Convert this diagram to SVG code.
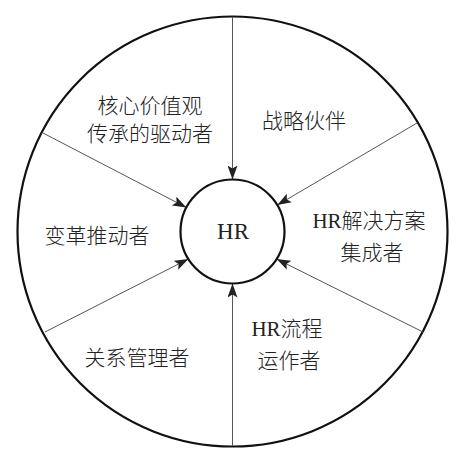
<svg xmlns="http://www.w3.org/2000/svg" width="469" height="454" viewBox="0 0 469 454">
<style>
.ring{fill:none;stroke:#111;stroke-width:2.2}
.hub{fill:#fff;stroke:#111;stroke-width:2.2}
.spoke{fill:none;stroke:#555;stroke-width:1}
.zh{font-family:"Noto Sans CJK SC","Noto Sans CJK JP",sans-serif;font-size:21px;font-weight:300;fill:#222;text-anchor:middle}
.lat{font-family:"Liberation Serif",serif;font-weight:400}
.hr{font-family:"Liberation Serif",serif;font-size:23px;fill:#222;text-anchor:middle}
</style>
<defs>
<marker id="ah" viewBox="0 0 14 10" refX="14" refY="5" markerWidth="14" markerHeight="10" markerUnits="userSpaceOnUse" orient="auto">
<path d="M0,0 L14,5 L0,10 L3,5 z" fill="#222"/>
</marker>
</defs>
<g id="outer"><circle class="ring" cx="232.5" cy="231.5" r="215"/></g>
<g id="connectors">
<line class="spoke" x1="232.5" y1="17" x2="232.5" y2="179.5" marker-end="url(#ah)"/>
<line class="spoke" x1="232.5" y1="446" x2="232.5" y2="283.5" marker-end="url(#ah)"/>
<line class="spoke" x1="43" y1="133" x2="186.4" y2="207.5" marker-end="url(#ah)"/>
<line class="spoke" x1="417" y1="123" x2="277.3" y2="205.1" marker-end="url(#ah)"/>
<line class="spoke" x1="45" y1="332" x2="188.4" y2="259" marker-end="url(#ah)"/>
<line class="spoke" x1="423" y1="332" x2="276.6" y2="259" marker-end="url(#ah)"/>
</g>
<g id="hub"><circle class="hub" cx="232.5" cy="231.5" r="52"/><text class="hr" x="233" y="239">HR</text></g>
<g id="n1"><text class="zh" x="150" y="113">核心价值观</text><text class="zh" x="150" y="141">传承的驱动者</text></g>
<g id="n2"><text class="zh" x="304" y="128">战略伙伴</text></g>
<g id="n3"><text class="zh" x="369" y="228"><tspan class="lat">HR</tspan>解决方案</text><text class="zh" x="372" y="260">集成者</text></g>
<g id="n4"><text class="zh" x="287" y="336"><tspan class="lat">HR</tspan>流程</text><text class="zh" x="289" y="368">运作者</text></g>
<g id="n5"><text class="zh" x="137" y="365">关系管理者</text></g>
<g id="n6"><text class="zh" x="97" y="243">变革推动者</text></g>
</svg>
